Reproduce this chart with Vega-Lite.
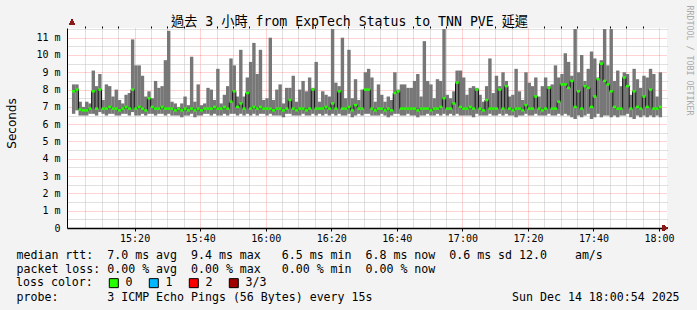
{
"$schema":"https://vega.github.io/schema/vega-lite/v6.json",
"width":600,"height":200,
"autosize":{"type":"none"},
"padding":{"left":67,"top":28,"right":30,"bottom":82},
"background":"#f3f3f3",
"config":{"view":{"fill":"white","stroke":null}},
"data":{"values":[
{"t":1.4,"lo":6.6,"hi":8.3,"md":7.9},{"t":2.4,"lo":6.8,"hi":8.3,"md":8.0},{"t":3.4,"lo":6.5,"hi":7.3,"md":6.85},{"t":4.4,"lo":6.5,"hi":7.0,"md":6.8},{"t":5.4,"lo":6.5,"hi":7.3,"md":6.8},
{"t":6.4,"lo":6.6,"hi":7.2,"md":6.9},{"t":7.4,"lo":6.6,"hi":9.1,"md":7.9},{"t":8.4,"lo":6.5,"hi":8.2,"md":6.9},{"t":9.4,"lo":6.7,"hi":8.9,"md":8.0},{"t":10.4,"lo":6.6,"hi":7.4,"md":6.9},
{"t":11.4,"lo":6.5,"hi":8.3,"md":6.9},{"t":12.4,"lo":6.6,"hi":8.2,"md":7.0},{"t":13.4,"lo":6.6,"hi":7.6,"md":6.9},{"t":14.4,"lo":6.5,"hi":8.0,"md":6.9},{"t":15.4,"lo":6.5,"hi":7.4,"md":6.8},
{"t":16.4,"lo":6.6,"hi":7.2,"md":6.9},{"t":17.4,"lo":6.6,"hi":7.7,"md":7.0},{"t":18.4,"lo":6.5,"hi":7.8,"md":6.9},{"t":19.4,"lo":6.7,"hi":10.9,"md":8.0},{"t":20.4,"lo":6.5,"hi":9.4,"md":6.9},
{"t":21.4,"lo":6.5,"hi":9.4,"md":7.0},{"t":22.4,"lo":6.6,"hi":8.8,"md":6.9},{"t":23.4,"lo":6.5,"hi":7.6,"md":6.8},{"t":24.4,"lo":6.6,"hi":7.9,"md":7.5},{"t":25.4,"lo":6.6,"hi":7.5,"md":7.0},
{"t":26.4,"lo":6.5,"hi":8.5,"md":6.9},{"t":27.4,"lo":6.6,"hi":8.1,"md":6.9},{"t":28.4,"lo":6.6,"hi":8.2,"md":7.0},{"t":29.4,"lo":6.5,"hi":9.7,"md":6.9},{"t":30.4,"lo":6.6,"hi":11.4,"md":6.9},
{"t":31.4,"lo":6.5,"hi":7.3,"md":6.9},{"t":32.4,"lo":6.5,"hi":7.2,"md":6.8},{"t":33.4,"lo":6.5,"hi":7.0,"md":6.9},{"t":34.4,"lo":6.4,"hi":7.2,"md":6.8},{"t":35.4,"lo":6.5,"hi":7.6,"md":6.9},
{"t":36.4,"lo":6.5,"hi":7.1,"md":6.8},{"t":37.4,"lo":6.6,"hi":9.9,"md":6.9},{"t":38.4,"lo":6.4,"hi":7.3,"md":6.8},{"t":39.4,"lo":6.5,"hi":8.3,"md":6.9},{"t":40.4,"lo":6.5,"hi":7.1,"md":6.8},
{"t":41.4,"lo":6.6,"hi":7.2,"md":6.9},{"t":42.4,"lo":6.6,"hi":8.1,"md":6.9},{"t":43.4,"lo":6.5,"hi":8.0,"md":6.9},{"t":44.4,"lo":6.6,"hi":7.4,"md":7.0},{"t":45.4,"lo":6.5,"hi":9.2,"md":6.9},
{"t":46.4,"lo":6.5,"hi":7.2,"md":6.9},{"t":47.4,"lo":6.6,"hi":7.7,"md":7.0},{"t":48.4,"lo":6.5,"hi":8.2,"md":6.9},{"t":49.4,"lo":6.6,"hi":9.8,"md":7.3},{"t":50.4,"lo":6.6,"hi":9.4,"md":7.9},
{"t":51.4,"lo":6.5,"hi":7.6,"md":7.0},{"t":52.4,"lo":6.6,"hi":10.3,"md":7.2},{"t":53.4,"lo":6.5,"hi":7.6,"md":6.9},{"t":54.4,"lo":6.6,"hi":8.7,"md":7.8},{"t":55.4,"lo":6.5,"hi":9.6,"md":6.9},
{"t":56.4,"lo":6.6,"hi":10.7,"md":7.0},{"t":57.4,"lo":6.5,"hi":8.9,"md":6.9},{"t":58.4,"lo":6.6,"hi":10.3,"md":7.0},{"t":59.4,"lo":6.6,"hi":7.4,"md":6.9},{"t":60.4,"lo":6.5,"hi":7.5,"md":6.9},
{"t":61.4,"lo":6.6,"hi":11.0,"md":6.9},{"t":62.4,"lo":6.5,"hi":7.4,"md":6.8},{"t":63.4,"lo":6.5,"hi":8.0,"md":6.9},{"t":64.4,"lo":6.5,"hi":8.3,"md":6.9},{"t":65.4,"lo":6.4,"hi":7.2,"md":6.8},
{"t":66.4,"lo":6.6,"hi":8.1,"md":6.9},{"t":67.4,"lo":6.6,"hi":8.1,"md":7.4},{"t":68.4,"lo":6.5,"hi":8.8,"md":6.9},{"t":69.4,"lo":6.5,"hi":7.3,"md":6.8},{"t":70.4,"lo":6.5,"hi":8.0,"md":6.9},
{"t":71.4,"lo":6.6,"hi":8.5,"md":6.9},{"t":72.4,"lo":6.5,"hi":7.9,"md":6.8},{"t":73.4,"lo":6.5,"hi":8.7,"md":6.9},{"t":74.4,"lo":6.6,"hi":8.1,"md":8.0},{"t":75.4,"lo":6.5,"hi":9.6,"md":6.9},
{"t":76.4,"lo":6.6,"hi":7.3,"md":6.9},{"t":77.4,"lo":6.5,"hi":7.9,"md":6.9},{"t":78.4,"lo":6.6,"hi":7.7,"md":7.0},{"t":79.4,"lo":6.5,"hi":7.6,"md":6.9},{"t":80.4,"lo":6.6,"hi":11.5,"md":7.2},
{"t":81.4,"lo":6.5,"hi":8.4,"md":6.9},{"t":82.4,"lo":6.6,"hi":8.2,"md":7.9},{"t":83.4,"lo":6.5,"hi":11.0,"md":6.9},{"t":84.4,"lo":6.5,"hi":7.5,"md":6.9},{"t":85.4,"lo":6.6,"hi":10.3,"md":7.0},
{"t":86.4,"lo":6.4,"hi":7.5,"md":6.8},{"t":87.4,"lo":6.5,"hi":8.6,"md":7.1},{"t":88.4,"lo":6.6,"hi":7.4,"md":6.9},{"t":89.4,"lo":6.5,"hi":8.0,"md":6.9},{"t":90.4,"lo":6.6,"hi":9.0,"md":8.0},
{"t":91.4,"lo":6.6,"hi":9.2,"md":8.0},{"t":92.4,"lo":6.5,"hi":8.7,"md":6.9},{"t":93.4,"lo":6.5,"hi":7.3,"md":6.8},{"t":94.4,"lo":6.5,"hi":8.3,"md":6.9},{"t":95.4,"lo":6.6,"hi":7.7,"md":6.9},
{"t":96.4,"lo":6.5,"hi":7.3,"md":6.8},{"t":97.4,"lo":6.4,"hi":7.6,"md":6.9},{"t":98.4,"lo":6.5,"hi":7.4,"md":6.8},{"t":99.4,"lo":6.6,"hi":9.0,"md":7.8},{"t":100.4,"lo":6.6,"hi":8.0,"md":7.9},
{"t":101.4,"lo":6.5,"hi":8.3,"md":6.9},{"t":102.4,"lo":6.5,"hi":8.3,"md":6.9},{"t":103.4,"lo":6.6,"hi":8.1,"md":6.9},{"t":104.4,"lo":6.5,"hi":8.1,"md":6.9},{"t":105.4,"lo":6.5,"hi":8.5,"md":6.9},
{"t":106.4,"lo":6.4,"hi":8.9,"md":6.8},{"t":107.4,"lo":6.5,"hi":7.6,"md":6.9},{"t":108.4,"lo":6.5,"hi":10.8,"md":6.9},{"t":109.4,"lo":6.6,"hi":8.5,"md":6.9},{"t":110.4,"lo":6.5,"hi":8.3,"md":6.8},
{"t":111.4,"lo":6.5,"hi":7.5,"md":6.9},{"t":112.4,"lo":6.6,"hi":8.6,"md":6.9},{"t":113.4,"lo":6.5,"hi":8.5,"md":7.0},{"t":114.4,"lo":6.6,"hi":11.5,"md":7.5},{"t":115.4,"lo":6.5,"hi":7.7,"md":6.9},
{"t":116.4,"lo":6.6,"hi":7.5,"md":6.9},{"t":117.4,"lo":6.5,"hi":7.9,"md":7.2},{"t":118.4,"lo":6.6,"hi":9.1,"md":8.4},{"t":119.4,"lo":6.5,"hi":9.1,"md":7.0},{"t":120.4,"lo":6.5,"hi":8.7,"md":6.9},
{"t":121.4,"lo":6.5,"hi":7.7,"md":6.9},{"t":122.4,"lo":6.5,"hi":8.1,"md":7.0},{"t":123.4,"lo":6.4,"hi":8.2,"md":6.9},{"t":124.4,"lo":6.6,"hi":8.1,"md":8.0},{"t":125.4,"lo":6.5,"hi":7.7,"md":6.9},
{"t":126.4,"lo":6.5,"hi":7.3,"md":6.8},{"t":127.4,"lo":6.5,"hi":8.2,"md":7.4},{"t":128.4,"lo":6.6,"hi":9.8,"md":6.9},{"t":129.4,"lo":6.5,"hi":7.8,"md":6.9},{"t":130.4,"lo":6.5,"hi":8.8,"md":6.9},
{"t":131.4,"lo":6.6,"hi":8.2,"md":8.0},{"t":132.4,"lo":6.5,"hi":9.0,"md":6.9},{"t":133.4,"lo":6.6,"hi":8.5,"md":8.2},{"t":134.4,"lo":6.5,"hi":7.6,"md":6.9},{"t":135.4,"lo":6.5,"hi":7.7,"md":6.8},
{"t":136.4,"lo":6.4,"hi":9.2,"md":6.9},{"t":137.4,"lo":6.5,"hi":7.9,"md":6.9},{"t":138.4,"lo":6.5,"hi":7.4,"md":6.8},{"t":139.4,"lo":6.6,"hi":9.0,"md":7.1},{"t":140.4,"lo":6.5,"hi":8.4,"md":6.9},
{"t":141.4,"lo":6.5,"hi":8.2,"md":6.9},{"t":142.4,"lo":6.6,"hi":8.7,"md":7.6},{"t":143.4,"lo":6.5,"hi":7.6,"md":6.9},{"t":144.4,"lo":6.5,"hi":8.2,"md":6.8},{"t":145.4,"lo":6.5,"hi":8.7,"md":6.9},
{"t":146.4,"lo":6.6,"hi":8.2,"md":8.1},{"t":147.4,"lo":6.5,"hi":8.3,"md":6.9},{"t":148.4,"lo":6.5,"hi":9.4,"md":6.9},{"t":149.4,"lo":6.6,"hi":8.7,"md":7.3},{"t":150.4,"lo":6.5,"hi":8.9,"md":8.3},
{"t":151.4,"lo":6.6,"hi":10.1,"md":8.3},{"t":152.4,"lo":6.5,"hi":9.6,"md":8.1},{"t":153.4,"lo":6.4,"hi":8.8,"md":8.5},{"t":154.4,"lo":6.3,"hi":11.5,"md":7.0},{"t":155.4,"lo":6.5,"hi":9.0,"md":7.9},
{"t":156.4,"lo":6.4,"hi":10.0,"md":6.9},{"t":157.4,"lo":6.5,"hi":8.5,"md":8.2},{"t":158.4,"lo":6.6,"hi":9.2,"md":8.1},{"t":159.4,"lo":6.3,"hi":10.2,"md":7.0},{"t":160.4,"lo":6.4,"hi":9.8,"md":7.6},
{"t":161.4,"lo":6.6,"hi":8.7,"md":8.6},{"t":162.4,"lo":6.4,"hi":9.7,"md":9.5},{"t":163.4,"lo":6.5,"hi":11.5,"md":8.5},{"t":164.4,"lo":6.5,"hi":9.4,"md":8.3},{"t":165.4,"lo":6.4,"hi":11.5,"md":7.9},
{"t":166.4,"lo":6.5,"hi":8.5,"md":7.0},{"t":167.4,"lo":6.4,"hi":9.1,"md":6.9},{"t":168.4,"lo":6.5,"hi":8.2,"md":6.9},{"t":169.4,"lo":6.5,"hi":9.0,"md":8.7},{"t":170.4,"lo":6.6,"hi":8.9,"md":8.2},
{"t":171.4,"lo":6.4,"hi":7.7,"md":6.9},{"t":172.4,"lo":6.3,"hi":9.2,"md":7.9},{"t":173.4,"lo":6.5,"hi":8.6,"md":7.0},{"t":174.4,"lo":6.4,"hi":8.1,"md":6.9},{"t":175.4,"lo":6.5,"hi":8.8,"md":7.6},
{"t":176.4,"lo":6.4,"hi":8.7,"md":7.0},{"t":177.4,"lo":6.5,"hi":9.2,"md":8.0},{"t":178.4,"lo":6.4,"hi":8.9,"md":6.9},{"t":179.4,"lo":6.5,"hi":7.6,"md":6.9},{"t":180.4,"lo":6.4,"hi":9.0,"md":7.0}
]},
"layer":[
{"mark":{"type":"bar","size":3.4,"color":"#777777"},
 "encoding":{
  "x":{"field":"t","type":"quantitative","scale":{"domain":[0.9,180.9],"nice":false,"zero":false},
   "axis":{"values":[20,40,60,80,100,120,140,160,180],"labelExpr":"timeFormat(datetime(2025,11,14,15,datum.value,0),'%H:%M')",
    "grid":true,"gridColor":"#ff0000","gridOpacity":0.35,"gridDash":[1,1],"domainColor":"black","domainWidth":1.5,
    "tickColor":"black","tickSize":3,"labelPadding":2,"labelFont":"DejaVu Sans Mono","labelFontSize":10,"labelColor":"black","labelFlush":false,"labelOverlap":false,
    "title":["median rtt:\u00a0\u00a07.0 ms avg\u00a0\u00a09.4 ms max\u00a0\u00a0\u00a06.5 ms min\u00a0\u00a06.8 ms now\u00a0\u00a00.6 ms sd\u00a012.0\u00a0\u00a0\u00a0\u00a0am/s",
             "packet loss:\u00a00.00 % avg\u00a0\u00a00.00 % max\u00a0\u00a0\u00a00.00 % min\u00a0\u00a00.00 % now",
             "\u200b",
             "probe:\u00a0\u00a0\u00a0\u00a0\u00a0\u00a0\u00a03 ICMP Echo Pings (56 Bytes) every 15s\u00a0\u00a0\u00a0\u00a0\u00a0\u00a0\u00a0\u00a0\u00a0\u00a0\u00a0\u00a0\u00a0\u00a0\u00a0\u00a0\u00a0\u00a0\u00a0\u00a0Sun Dec 14 18:00:54 2025"],
    "titleX":-51,"titleY":21,"titleAlign":"left","titleAnchor":"start","titleBaseline":"top","titleFont":"DejaVu Sans Mono","titleFontSize":11.6,"titleFontWeight":"normal","titleColor":"black","titleLineHeight":14}},
  "y":{"field":"lo","type":"quantitative","scale":{"domain":[0,11.56],"nice":false,"zero":true},
   "axis":{"values":[0,1,2,3,4,5,6,7,8,9,10,11],"labelExpr":"datum.value == 0 ? '0' : datum.value + ' m'",
    "grid":true,"gridColor":"#ff0000","gridOpacity":0.35,"gridDash":[1,1],"ticks":false,"domainColor":"black","domainWidth":1,
    "labelPadding":7,"labelFont":"DejaVu Sans Mono","labelFontSize":10,"labelColor":"black",
    "title":"Seconds","titleFont":"DejaVu Sans","titleFontSize":12,"titleFontWeight":"normal","titleColor":"black",
    "titleX":-56,"titleY":95,"titleAngle":-90,"titleAlign":"center","titleBaseline":"middle"}},
  "y2":{"field":"hi"}
 }},
{"mark":{"type":"line","interpolate":"step","color":"#111111","strokeWidth":1},
 "encoding":{"x":{"field":"t","type":"quantitative","axis":null},"y":{"field":"md","type":"quantitative","axis":null}}},
{"mark":{"type":"tick","orient":"horizontal","size":3.2,"thickness":2.5,"opacity":1},
 "encoding":{
  "x":{"field":"t","type":"quantitative",
   "axis":{"values":[5,10,15,25,30,35,45,50,55,65,70,75,85,90,95,105,110,115,125,130,135,145,150,155,165,170,175],
    "labels":false,"domain":false,"ticks":true,"tickSize":2,"tickColor":"black","grid":true,"gridColor":"#c0c0c0","gridDash":[1,1],"title":null}},
  "y":{"field":"md","type":"quantitative",
   "axis":{"values":[0.5,1.5,2.5,3.5,4.5,5.5,6.5,7.5,8.5,9.5,10.5,11.5],"labels":false,"domain":false,"ticks":false,"grid":true,"gridColor":"#c0c0c0","gridDash":[1,1],"title":null}},
  "color":{"datum":"0","type":"nominal","scale":{"domain":["0","1","2","3/3"],"range":["#26ff00","#00b8ff","#ff0000","#a10000"]},
   "legend":{"title":"loss color:","orient":"none","legendX":-51,"legendY":249,"direction":"horizontal","titleOrient":"left",
    "titleFont":"DejaVu Sans Mono","titleFontSize":11.6,"titleFontWeight":"normal","titleColor":"black","titlePadding":15,"titleBaseline":"middle",
    "labelFont":"DejaVu Sans Mono","labelFontSize":11.6,"labelColor":"black","labelOffset":6,
    "symbolType":"square","symbolSize":81,"symbolStrokeColor":"black","symbolStrokeWidth":1,"symbolOpacity":1,"columnPadding":14,"padding":0}}
 }},
{"mark":{"type":"point","shape":"triangle-up","filled":true,"color":"#8b1a1a","size":30,"opacity":1,"clip":false},
 "encoding":{"x":{"datum":0.9,"type":"quantitative",
   "axis":{"orient":"top","labels":false,"ticks":false,"domain":false,"grid":false,
    "title":"過去 3 小時 from ExpTech Status to TNN PVE 延遲","titleFont":"DejaVu Sans Mono, Noto Sans CJK TC","titleFontSize":13.2,"titleFontWeight":"normal","titleColor":"black",
    "titleX":282,"titleY":-3,"titleAlign":"center","titleBaseline":"alphabetic","titleAngle":0}},
  "y":{"datum":11.9,"type":"quantitative",
   "axis":{"orient":"right","labels":false,"ticks":false,"domain":false,"grid":false,
    "title":"RRDTOOL / TOBI OETIKER","titleFont":"DejaVu Sans Mono","titleFontSize":8.3,"titleFontWeight":"normal","titleColor":"#aaaaaa",
    "titleAngle":90,"titleX":21,"titleY":32,"titleAlign":"center","titleBaseline":"middle"}}}},
{"mark":{"type":"point","shape":"triangle-right","filled":true,"color":"#8b1a1a","size":30,"opacity":1,"clip":false},
 "encoding":{"x":{"datum":181.9,"type":"quantitative","axis":null},"y":{"datum":0,"type":"quantitative","axis":null}}}
],
"resolve":{"axis":{"x":"independent","y":"independent"}}
}
